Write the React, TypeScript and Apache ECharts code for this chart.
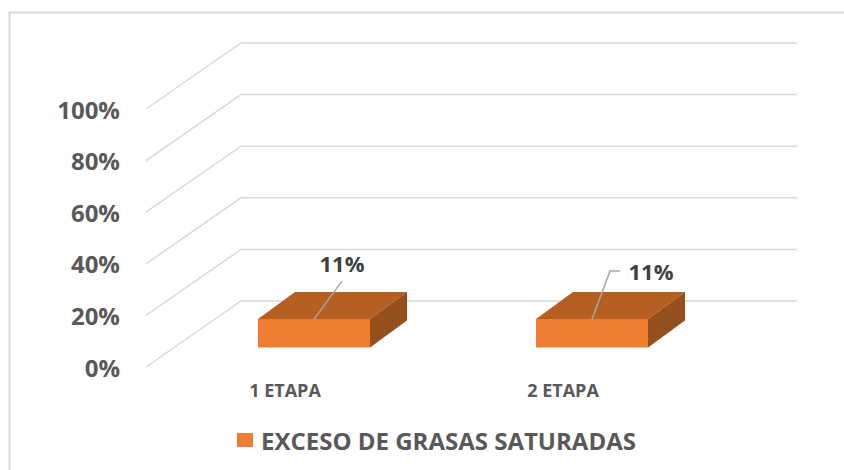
import React, { useEffect, useRef } from "react";
import * as echarts from "echarts";

const categories = ["1 ETAPA", "2 ETAPA"];
const seriesName = "EXCESO DE GRASAS SATURADAS";
const values = [11, 11];
const ticks = [0, 20, 40, 60, 80, 100];

const FONT = "'Open Sans', sans-serif";
const TEXT = "#595959";
const DEPTH_X = 95;
const DEPTH_Y = 66;
const BAR_W = 112;
const BAR_DX = 37;
const BAR_DY = 27;

export default function App() {
  const ref = useRef<HTMLDivElement>(null);
  useEffect(() => {
    const chart = echarts.init(ref.current!, undefined, { renderer: "svg" });
    chart.setOption({
      animation: false,
      backgroundColor: "#ffffff",
      grid: { left: 146, top: 109, width: 556, height: 258 },
      graphic: [
        {
          type: "polyline",
          silent: true,
          shape: { points: [[9.5, 470], [9.5, 12.5], [844, 12.5]] },
          style: { stroke: "#D9D9D9", lineWidth: 2, fill: "none" },
        },
      ],
      legend: {
        left: 232,
        top: 423,
        data: [{ name: seriesName, icon: "rect", itemStyle: { color: "#ED7D31" } }],
        itemWidth: 16,
        itemHeight: 14,
        selectedMode: false,
        textStyle: { color: TEXT, fontFamily: FONT, fontSize: 24, fontWeight: 700, padding: [1, 0, 0, 3] },
      },
      xAxis: {
        type: "category",
        data: categories,
        axisLine: { show: false },
        axisTick: { show: false },
        axisLabel: { color: TEXT, fontFamily: FONT, fontSize: 18, fontWeight: 700, margin: 14 },
      },
      yAxis: {
        type: "value",
        min: 0,
        max: 100,
        interval: 20,
        splitLine: { show: false },
        axisLine: { show: false },
        axisTick: { show: false },
        axisLabel: {
          formatter: "{value}%",
          color: TEXT,
          fontFamily: FONT,
          fontSize: 24,
          fontWeight: 700,
          margin: 26,
        },
      },
      series: [
        {
          type: "custom",
          name: "grid",
          silent: true,
          z: 1,
          data: ticks.map((t) => [0, t]),
          renderItem: (params: any, api: any) => {
            const cs = params.coordSys;
            const y = api.coord([0, api.value(1)])[1];
            return {
              type: "polyline",
              shape: {
                points: [
                  [cs.x, y],
                  [cs.x + DEPTH_X, y - DEPTH_Y],
                  [cs.x + cs.width + DEPTH_X, y - DEPTH_Y],
                ],
              },
              style: { stroke: "#D9D9D9", lineWidth: 1.5, fill: "none" },
            };
          },
        },
        {
          type: "custom",
          name: seriesName,
          silent: true,
          z: 2,
          itemStyle: { color: "#ED7D31" },
          data: values.map((v, i) => [i, v]),
          renderItem: (params: any, api: any) => {
            const i = params.dataIndex;
            const v = api.value(1);
            const [cx, y0] = api.coord([i, 0]);
            const yTop = api.coord([i, v])[1];
            const ox = (DEPTH_X - BAR_DX) / 2;
            const oy = (DEPTH_Y - BAR_DY) / 2;
            const l = cx + ox - BAR_W / 2;
            const r = l + BAR_W;
            const b = y0 - oy;
            const t = yTop - oy;
            const mid = l + BAR_W / 2;
            const leader =
              i === 0
                ? [[mid, t], [mid + 28, t - 38]]
                : [[mid, t], [mid + 18, t - 48], [mid + 28, t - 48]];
            const labelPos = i === 0 ? [mid + 28, t - 56] : [mid + 59, t - 48];
            return {
              type: "group",
              children: [
                {
                  type: "polygon",
                  shape: { points: [[l, t], [r, t], [r + BAR_DX, t - BAR_DY], [l + BAR_DX, t - BAR_DY]] },
                  style: { fill: "#B65F22" },
                },
                {
                  type: "polygon",
                  shape: { points: [[r, t], [r + BAR_DX, t - BAR_DY], [r + BAR_DX, b - BAR_DY], [r, b]] },
                  style: { fill: "#96501D" },
                },
                { type: "rect", shape: { x: l, y: t, width: BAR_W, height: b - t }, style: { fill: "#ED7D31" } },
                {
                  type: "polyline",
                  shape: { points: leader },
                  style: { stroke: "#A6A6A6", lineWidth: 1.5, fill: "none" },
                },
                {
                  type: "text",
                  x: labelPos[0],
                  y: labelPos[1],
                  style: {
                    text: v + "%",
                    fill: "#404040",
                    font: "700 22px " + FONT,
                    align: "center",
                    verticalAlign: "middle",
                  },
                },
              ],
            };
          },
        },
      ],
    });
    return () => chart.dispose();
  }, []);
  return <div ref={ref} style={{ position: "fixed", left: 0, top: 0, width: 844, height: 470 }} />;
}
